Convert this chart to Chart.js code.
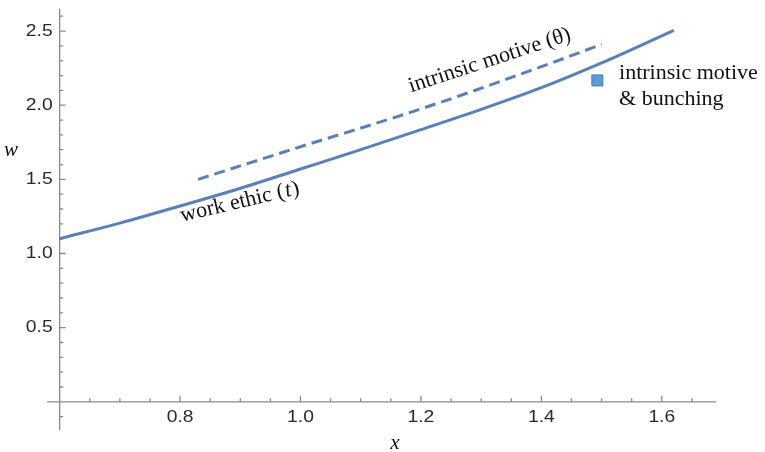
<!DOCTYPE html>
<html><head><meta charset="utf-8">
<script src="https://cdn.jsdelivr.net/npm/chart.js@4/dist/chart.umd.min.js"></script>
<style>html,body{margin:0;padding:0;background:#fff}#wrap{width:765px;height:452px}</style>
</head><body><div id="wrap"><canvas id="c" width="765" height="452"></canvas></div>
<script>
// ---- data ----
const workX  = [0.6, 0.7, 0.8, 0.9, 1.0, 1.1, 1.2, 1.3, 1.4, 1.5, 1.62];
const workW  = [1.10, 1.205, 1.32, 1.44, 1.57, 1.70, 1.835, 1.972, 2.118, 2.285, 2.505];
const motiveX = [0.83, 1.0, 1.2, 1.4, 1.5];
const motiveW = [1.50, 1.72, 1.975, 2.26, 2.41];
const bunchX = [1.493];
const bunchW = [2.167];

const xTickValues = [0.8, 1.0, 1.2, 1.4, 1.6];
const xTickLabels = ['0.8', '1.0', '1.2', '1.4', '1.6'];
const xMinorTicks = [0.65, 0.7, 0.75, 0.85, 0.9, 0.95, 1.05, 1.1, 1.15, 1.25, 1.3, 1.35, 1.45, 1.5, 1.55, 1.65];
const yTickValues = [0.5, 1.0, 1.5, 2.0, 2.5];
const yTickLabels = ['0.5', '1.0', '1.5', '2.0', '2.5'];
const yMinorTicks = [-0.1, 0.1, 0.2, 0.3, 0.4, 0.6, 0.7, 0.8, 0.9, 1.1, 1.2, 1.3, 1.4, 1.6, 1.7, 1.8, 1.9, 2.1, 2.2, 2.3, 2.4, 2.6];

const labelWork = 'work ethic (';
const labelWorkVar = 't';
const labelMotive = 'intrinsic motive (θ)';
const legendLine1 = 'intrinsic motive';
const legendLine2 = '& bunching';
const xTitle = 'x';
const yTitle = 'w';

const lineBlue = '#5a7fbf';
const SERIF = '"Liberation Serif", "Times New Roman", serif';
const SANS = '"Liberation Sans", Arial, sans-serif';

function pts(xs, ys) { return xs.map((x, i) => ({x: x, y: ys[i]})); }

const axesPlugin = {
  id: 'axesPlugin',
  beforeDatasetsDraw(chart) {
    const ctx = chart.ctx, xs = chart.scales.x, ys = chart.scales.y, a = chart.chartArea;
    const x0 = xs.getPixelForValue(0.6), y0 = ys.getPixelForValue(0);
    ctx.save();
    ctx.strokeStyle = '#8a8a8a';
    ctx.lineWidth = 1.3;
    ctx.beginPath();
    ctx.moveTo(a.left, y0); ctx.lineTo(a.right, y0);
    ctx.moveTo(x0, a.top); ctx.lineTo(x0, a.bottom);
    xTickValues.forEach(v => { const p = xs.getPixelForValue(v); ctx.moveTo(p, y0); ctx.lineTo(p, y0 - 6); });
    xMinorTicks.forEach(v => { const p = xs.getPixelForValue(v); ctx.moveTo(p, y0); ctx.lineTo(p, y0 - 3.5); });
    yTickValues.forEach(v => { const p = ys.getPixelForValue(v); ctx.moveTo(x0, p); ctx.lineTo(x0 + 6, p); });
    yMinorTicks.forEach(v => { const p = ys.getPixelForValue(v); ctx.moveTo(x0, p); ctx.lineTo(x0 + 3.5, p); });
    ctx.stroke();
    ctx.fillStyle = '#2a2a2a';
    ctx.font = '16.5px ' + SANS;
    ctx.textAlign = 'center'; ctx.textBaseline = 'middle';
    xTickValues.forEach((v, i) => {
      ctx.save(); ctx.translate(xs.getPixelForValue(v), y0 + 16); ctx.scale(1.17, 1);
      ctx.fillText(xTickLabels[i], 0, 0); ctx.restore();
    });
    ctx.textAlign = 'right';
    yTickValues.forEach((v, i) => {
      ctx.save(); ctx.translate(x0 - 7, ys.getPixelForValue(v)); ctx.scale(1.17, 1);
      ctx.fillText(yTickLabels[i], 0, 0); ctx.restore();
    });
    ctx.restore();
  },
  afterDatasetsDraw(chart) {
    const ctx = chart.ctx, xs = chart.scales.x, ys = chart.scales.y;
    ctx.save();
    ctx.fillStyle = '#111';
    // axis titles
    ctx.font = 'italic 21px ' + SERIF;
    ctx.textAlign = 'center'; ctx.textBaseline = 'middle';
    ctx.fillText(yTitle, 11, 150);
    ctx.fillText(xTitle, 395, 443);
    // rotated curve labels
    ctx.textBaseline = 'alphabetic';
    ctx.save();
    ctx.translate(xs.getPixelForValue(0.900), ys.getPixelForValue(1.307));
    ctx.rotate(-13.3 * Math.PI / 180);
    ctx.font = '22px ' + SERIF;
    const w1 = ctx.measureText(labelWork).width;
    ctx.font = 'italic 22px ' + SERIF;
    const w2 = ctx.measureText(labelWorkVar).width;
    ctx.font = '22px ' + SERIF;
    const w3 = ctx.measureText(')').width;
    let sx = -(w1 + w2 + w3) / 2;
    ctx.textAlign = 'left';
    ctx.fillText(labelWork, sx, 0);
    ctx.font = 'italic 22px ' + SERIF;
    ctx.fillText(labelWorkVar, sx + w1 + 1, 0);
    ctx.font = '22px ' + SERIF;
    ctx.fillText(')', sx + w1 + w2 + 2, 0);
    ctx.restore();

    ctx.save();
    ctx.translate(xs.getPixelForValue(1.317), ys.getPixelForValue(2.264));
    ctx.rotate(-18.2 * Math.PI / 180);
    ctx.font = '22px ' + SERIF;
    ctx.textAlign = 'center';
    ctx.fillText(labelMotive, 0, 0);
    ctx.restore();

    // legend text for the square
    ctx.font = '22px ' + SERIF;
    ctx.textAlign = 'left'; ctx.textBaseline = 'middle';
    ctx.fillText(legendLine1, xs.getPixelForValue(1.529), ys.getPixelForValue(2.214));
    ctx.fillText(legendLine2, xs.getPixelForValue(1.529), ys.getPixelForValue(2.038));
    ctx.restore();
  }
};

function build() {
  new Chart(document.getElementById('c'), {
    type: 'scatter',
    data: {
      datasets: [
        { label: 'work ethic', data: pts(workX, workW), showLine: true, borderColor: lineBlue, borderWidth: 3,
          pointRadius: 0, cubicInterpolationMode: 'monotone', fill: false },
        { label: 'intrinsic motive', data: pts(motiveX, motiveW), showLine: true, borderColor: lineBlue, borderWidth: 3,
          borderDash: [11, 6], pointRadius: 0, cubicInterpolationMode: 'monotone', fill: false },
        { label: 'intrinsic motive & bunching', data: pts(bunchX, bunchW), showLine: false, pointStyle: 'rect',
          pointRadius: 7.8, backgroundColor: '#5b9bd5', borderColor: '#4a7fb5', borderWidth: 1 }
      ]
    },
    options: {
      responsive: false, animation: false, devicePixelRatio: 1,
      layout: { padding: { left: 47, right: 49, top: 8, bottom: 22 } },
      plugins: { legend: { display: false }, tooltip: { enabled: false } },
      scales: {
        x: { type: 'linear', min: 0.579, max: 1.69, display: false },
        y: { type: 'linear', min: -0.19, max: 2.65, display: false }
      }
    },
    plugins: [axesPlugin]
  });
}

Promise.all([
  document.fonts.load('22px "Liberation Serif"'),
  document.fonts.load('italic 22px "Liberation Serif"'),
  document.fonts.load('16px "Liberation Sans"')
]).then(build, build);
</script>
</body></html>
